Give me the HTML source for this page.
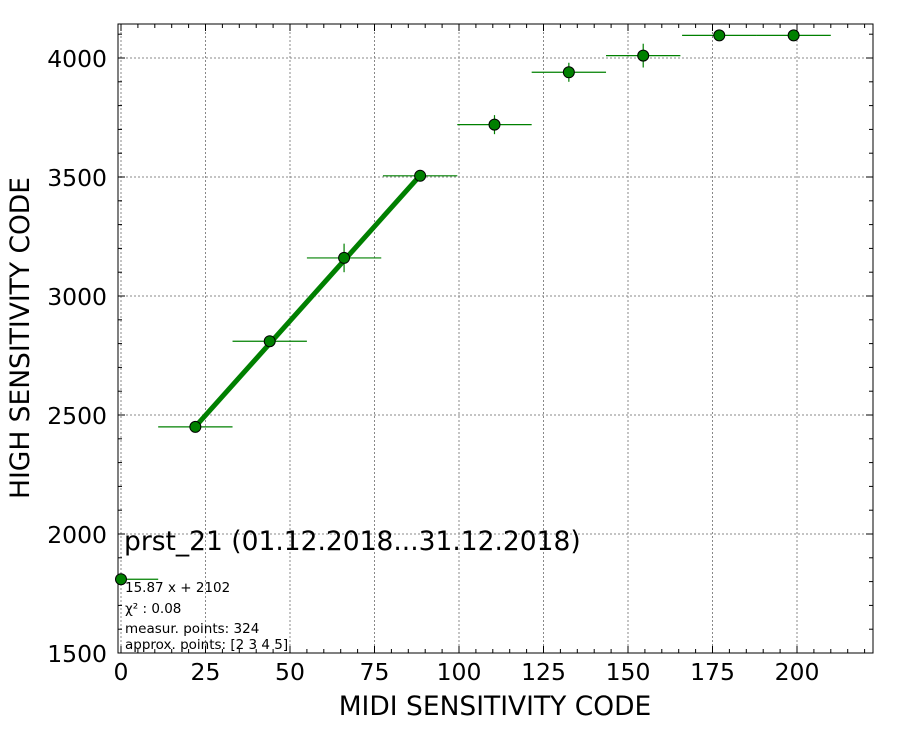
<!DOCTYPE html>
<html><head><meta charset="utf-8"><style>
body{margin:0;background:#fff;}
svg text{font-family:"DejaVu Sans","Liberation Sans",sans-serif;}
</style></head><body>
<svg id="c" width="900" height="750" xmlns="http://www.w3.org/2000/svg"></svg>
<script>
const xVals=[0,22,44,66,88.5,110.5,132.5,154.5,177,199];
const yVals=[1810,2450,2810,3160,3505,3720,3940,4010,4095,4095];
const xErr=[11,11,11,11,11,11,11,11,11,11];
const yErr=[0,15,20,60,15,40,40,50,10,10];
const fitX=[22,88.5];
const fitSlope=15.87, fitIntercept=2102;
const xTicks=[0,25,50,75,100,125,150,175,200];
const yTicks=[1500,2000,2500,3000,3500,4000];
const L=118,R=873,T=24,B=653;
const X=v=>121+(v-0)*(797-121)/200;
const Y=v=>653-(v-1500)*(653-58)/2500;
const svg=document.getElementById('c');
const NS='http://www.w3.org/2000/svg';
function mk(t,a,p){const e=document.createElementNS(NS,t);for(const k in a)e.setAttribute(k,a[k]);(p||svg).appendChild(e);return e;}
xTicks.forEach(v=>{const l=mk('line',{x1:X(v),x2:X(v),y1:T,y2:B,stroke:'#888','stroke-width':1,'stroke-dasharray':'2,2'});

});
yTicks.forEach(v=>{const l=mk('line',{x1:L,x2:R,y1:Y(v),y2:Y(v),stroke:'#888','stroke-width':1,'stroke-dasharray':'2,2'});

});
for(let v=0;v<=220;v+=5){const x=X(v);if(x<L||x>R)continue;const big=v%25===0;const s=big?7:4;
mk('line',{x1:x,x2:x,y1:B,y2:B-s,stroke:'#000'});mk('line',{x1:x,x2:x,y1:T,y2:T+s,stroke:'#000'});}
for(let v=1500;v<=4140;v+=100){const y=Y(v);const big=v%500===0;const s=big?7:4;
mk('line',{x1:L,x2:L+s,y1:y,y2:y,stroke:'#000'});mk('line',{x1:R,x2:R-s,y1:y,y2:y,stroke:'#000'});}
const f=mk('rect',{x:L,y:T,width:R-L,height:B-T,fill:'none',stroke:'#000','stroke-width':1});


xTicks.forEach(v=>{const t=mk('text',{x:X(v),y:B+27,'font-size':23.5,'text-anchor':'middle'});t.textContent=v;

});
yTicks.forEach(v=>{const t=mk('text',{x:L-11,y:Y(v)+9,'font-size':23.5,'text-anchor':'end'});t.textContent=v;

});
let t=mk('text',{x:495,y:715,'font-size':26.5,'text-anchor':'middle'});t.textContent='MIDI SENSITIVITY CODE';


t=mk('text',{x:29,y:338,'font-size':26.5,'text-anchor':'middle',transform:'rotate(-90 29 338)'});t.textContent='HIGH SENSITIVITY CODE';


const fl=mk('line',{x1:X(fitX[0]),y1:Y(fitSlope*fitX[0]+fitIntercept),x2:X(fitX[1]),y2:Y(fitSlope*fitX[1]+fitIntercept),stroke:'#008000','stroke-width':5});


xVals.forEach((xv,i)=>{const g=mk('g',{});


const cx=X(xv),cy=Y(yVals[i]);
mk('line',{x1:Math.max(L,X(xv-xErr[i])),x2:Math.min(R,X(xv+xErr[i])),y1:cy,y2:cy,stroke:'#008000','stroke-width':1.2},g);
if(yErr[i])mk('line',{x1:cx,x2:cx,y1:Y(yVals[i]-yErr[i]),y2:Y(yVals[i]+yErr[i]),stroke:'#008000','stroke-width':1.2},g);
mk('circle',{cx:cx,cy:cy,r:5.5,fill:'#008000',stroke:'#000','stroke-width':1},g);});
t=mk('text',{x:124,y:550,'font-size':26.5});t.textContent='prst_21 (01.12.2018...31.12.2018)';


const lines=[['15.87 x + 2102',592],['χ² : 0.08',613],['measur. points: 324',633],['approx. points: [2 3 4 5]',649]];
lines.forEach(([s,y])=>{const e=mk('text',{x:125,y:y,'font-size':13.5});e.textContent=s;

});
</script>
</body></html>
